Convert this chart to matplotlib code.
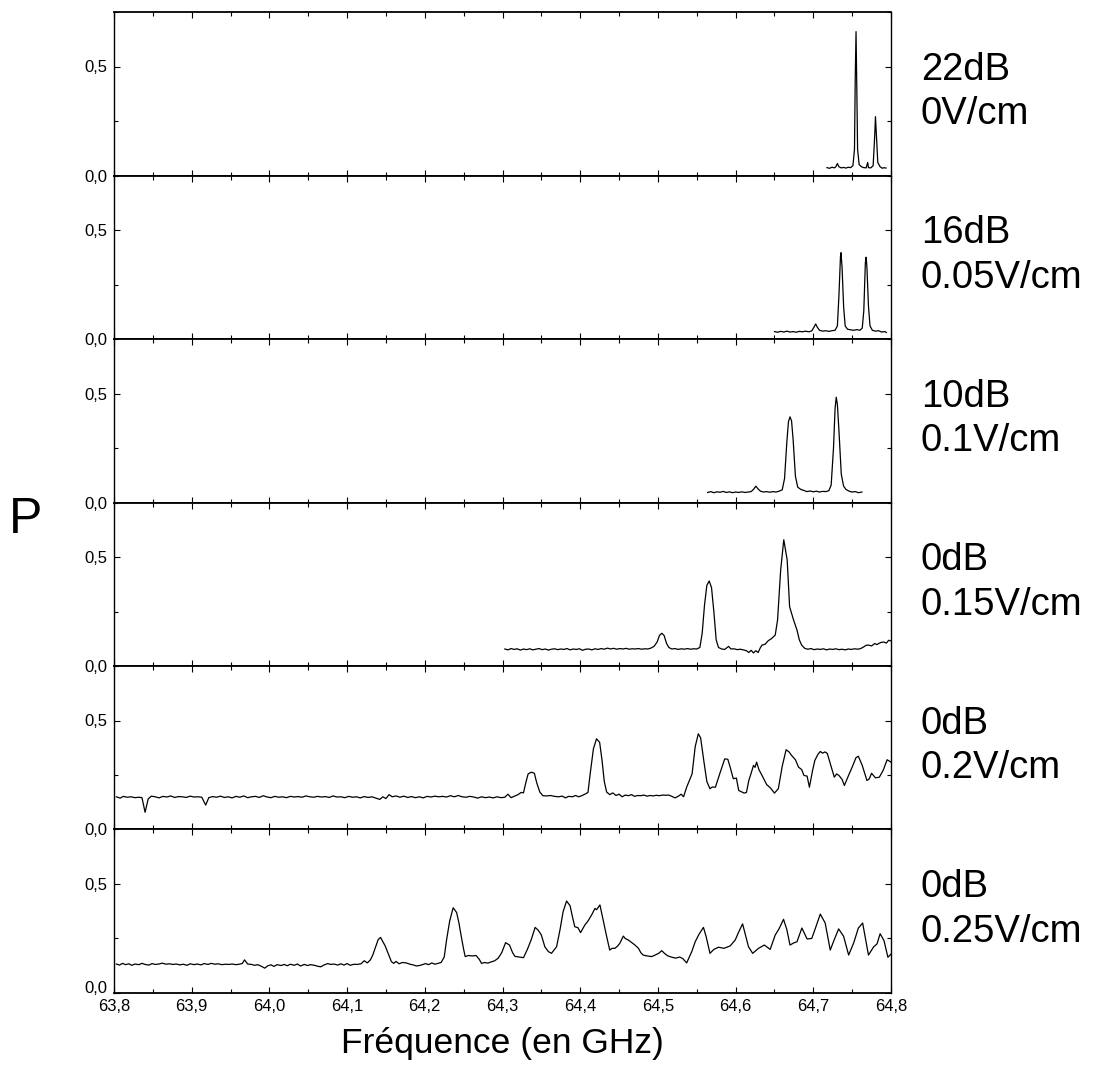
import matplotlib
matplotlib.use("Agg")
import matplotlib.pyplot as plt
from matplotlib.ticker import MultipleLocator, FuncFormatter

plt.rcParams['font.family'] = ['Liberation Sans', 'DejaVu Sans']

# ---------------- data (frequency in GHz, P) ----------------
labels = ["22dB\n0V/cm", "16dB\n0.05V/cm", "10dB\n0.1V/cm",
          "0dB\n0.15V/cm", "0dB\n0.2V/cm", "0dB\n0.25V/cm"]

x1 = [64.7175, 64.721, 64.724, 64.727, 64.729, 64.731, 64.733, 64.736, 64.739, 64.742,
      64.745, 64.748, 64.751, 64.753, 64.754, 64.755, 64.756, 64.757, 64.759, 64.762,
      64.765, 64.768, 64.770, 64.771, 64.774, 64.777, 64.779, 64.780, 64.781, 64.783,
      64.786, 64.789, 64.791, 64.7936]
y1 = [0.036, 0.033, 0.038, 0.035, 0.040, 0.055, 0.040, 0.035, 0.037, 0.034,
      0.038, 0.036, 0.045, 0.120, 0.450, 0.660, 0.400, 0.120, 0.050, 0.040,
      0.036, 0.035, 0.060, 0.036, 0.035, 0.045, 0.180, 0.270, 0.200, 0.060,
      0.040, 0.033, 0.036, 0.034]

x2 = [64.650, 64.654, 64.658, 64.662, 64.666, 64.670, 64.674, 64.678, 64.682, 64.686,
      64.690, 64.694, 64.698, 64.701, 64.703, 64.705, 64.708, 64.712, 64.716, 64.720,
      64.724, 64.728, 64.731, 64.733, 64.735, 64.7356, 64.737, 64.739, 64.741, 64.744,
      64.748, 64.752, 64.756, 64.760, 64.763, 64.765, 64.767, 64.768, 64.769, 64.771,
      64.773, 64.776, 64.780, 64.784, 64.788, 64.792, 64.794]
y2 = [0.034, 0.031, 0.035, 0.032, 0.036, 0.032, 0.034, 0.031, 0.035, 0.033,
      0.036, 0.033, 0.037, 0.055, 0.069, 0.055, 0.040, 0.036, 0.038, 0.035,
      0.038, 0.040, 0.060, 0.200, 0.380, 0.396, 0.330, 0.150, 0.060, 0.045,
      0.042, 0.040, 0.043, 0.040, 0.050, 0.130, 0.350, 0.375, 0.330, 0.150,
      0.060, 0.040, 0.036, 0.038, 0.032, 0.034, 0.030]

x3 = [64.564, 64.568, 64.572, 64.576, 64.580, 64.584, 64.588, 64.592, 64.596, 64.600,
      64.604, 64.608, 64.612, 64.616, 64.620, 64.623, 64.626, 64.629, 64.632, 64.636,
      64.640, 64.644, 64.648, 64.652, 64.656, 64.660, 64.663, 64.666, 64.668, 64.670,
      64.672, 64.674, 64.677, 64.680, 64.684, 64.688, 64.692, 64.696, 64.700, 64.704,
      64.708, 64.712, 64.716, 64.720, 64.723, 64.726, 64.728, 64.7295, 64.731, 64.733,
      64.736, 64.739, 64.742, 64.746, 64.750, 64.754, 64.758, 64.7626]
y3 = [0.046, 0.050, 0.045, 0.049, 0.047, 0.051, 0.046, 0.049, 0.045, 0.048,
      0.046, 0.049, 0.046, 0.048, 0.050, 0.060, 0.075, 0.062, 0.052, 0.048,
      0.050, 0.047, 0.050, 0.048, 0.052, 0.058, 0.110, 0.280, 0.370, 0.393,
      0.375, 0.290, 0.120, 0.070, 0.060, 0.055, 0.050, 0.053, 0.049, 0.052,
      0.048, 0.051, 0.050, 0.054, 0.080, 0.250, 0.430, 0.483, 0.450, 0.330,
      0.130, 0.075, 0.060, 0.052, 0.048, 0.050, 0.045, 0.048]

x4 = [64.303, 64.307, 64.311, 64.315, 64.319, 64.323, 64.327, 64.331, 64.335, 64.339,
      64.343, 64.347, 64.351, 64.355, 64.359, 64.363, 64.367, 64.371, 64.375, 64.379,
      64.383, 64.387, 64.391, 64.395, 64.399, 64.403, 64.407, 64.411, 64.415, 64.419,
      64.423, 64.427, 64.431, 64.435, 64.439, 64.443, 64.447, 64.451, 64.455, 64.459,
      64.463, 64.467, 64.471, 64.475, 64.479, 64.483, 64.487, 64.491, 64.495, 64.499,
      64.502, 64.505, 64.508, 64.511, 64.514, 64.518, 64.522, 64.526, 64.530, 64.534,
      64.538, 64.542, 64.546, 64.550, 64.554, 64.557, 64.560, 64.563, 64.566, 64.569,
      64.572, 64.575, 64.578, 64.582, 64.586, 64.591, 64.594, 64.598, 64.602, 64.606,
      64.610, 64.614, 64.617, 64.620, 64.623, 64.626, 64.629, 64.632, 64.634, 64.638,
      64.642, 64.646, 64.651, 64.654, 64.658, 64.662, 64.6664, 64.6695, 64.6746, 64.679,
      64.682, 64.685, 64.689, 64.693, 64.697, 64.701, 64.705, 64.709, 64.713, 64.717,
      64.721, 64.725, 64.729, 64.733, 64.737, 64.741, 64.745, 64.749, 64.753, 64.757,
      64.761, 64.765, 64.768, 64.771, 64.775, 64.779, 64.782, 64.784, 64.787, 64.7906,
      64.794, 64.797, 64.800]
y4 = [0.078, 0.074, 0.080, 0.076, 0.079, 0.073, 0.078, 0.075, 0.079, 0.074,
      0.077, 0.080, 0.075, 0.078, 0.073, 0.077, 0.079, 0.075, 0.078, 0.076,
      0.080, 0.074, 0.078, 0.076, 0.079, 0.072, 0.077, 0.078, 0.074, 0.079,
      0.076, 0.080, 0.077, 0.082, 0.078, 0.081, 0.077, 0.080, 0.078, 0.081,
      0.077, 0.079, 0.078, 0.080, 0.077, 0.079, 0.078, 0.082, 0.090, 0.110,
      0.140, 0.150, 0.140, 0.105, 0.085, 0.078, 0.080, 0.076, 0.079, 0.077,
      0.080, 0.077, 0.079, 0.078, 0.085, 0.150, 0.280, 0.370, 0.390, 0.360,
      0.250, 0.120, 0.085, 0.078, 0.076, 0.090, 0.078, 0.079, 0.075, 0.077,
      0.074, 0.070, 0.062, 0.072, 0.060, 0.070, 0.062, 0.085, 0.096, 0.100,
      0.116, 0.125, 0.142, 0.211, 0.440, 0.579, 0.486, 0.272, 0.211, 0.165,
      0.120, 0.096, 0.081, 0.077, 0.080, 0.075, 0.078, 0.076, 0.079, 0.074,
      0.078, 0.076, 0.079, 0.075, 0.077, 0.074, 0.078, 0.076, 0.079, 0.077,
      0.080, 0.088, 0.095, 0.096, 0.092, 0.103, 0.098, 0.103, 0.108, 0.110,
      0.105, 0.118, 0.115]

x5 = [63.803, 63.808, 63.812, 63.817, 63.822, 63.827, 63.832, 63.836, 63.840, 63.844,
      63.848, 63.853, 63.858, 63.863, 63.868, 63.873, 63.878, 63.883, 63.888, 63.893,
      63.898, 63.903, 63.908, 63.913, 63.918, 63.922, 63.927, 63.932, 63.937, 63.942,
      63.947, 63.952, 63.957, 63.962, 63.967, 63.972, 63.977, 63.982, 63.987, 63.992,
      63.997, 64.002, 64.007, 64.012, 64.017, 64.022, 64.027, 64.032, 64.037, 64.042,
      64.047, 64.052, 64.057, 64.062, 64.067, 64.072, 64.077, 64.082, 64.087, 64.092,
      64.097, 64.102, 64.107, 64.112, 64.117, 64.122, 64.127, 64.132, 64.137, 64.142,
      64.146, 64.150, 64.154, 64.158, 64.163, 64.168, 64.173, 64.178, 64.183, 64.188,
      64.193, 64.198, 64.203, 64.208, 64.213, 64.218, 64.223, 64.228, 64.233, 64.238,
      64.243, 64.248, 64.253, 64.258, 64.263, 64.268, 64.273, 64.278, 64.283, 64.288,
      64.293, 64.298, 64.303, 64.307, 64.311, 64.316, 64.320, 64.324, 64.327, 64.330,
      64.333, 64.337, 64.341, 64.344, 64.348, 64.352, 64.357, 64.362, 64.367, 64.372,
      64.377, 64.381, 64.385, 64.390, 64.394, 64.398, 64.402, 64.406, 64.410, 64.413,
      64.417, 64.421, 64.425, 64.428, 64.431, 64.434, 64.438, 64.442, 64.446, 64.450,
      64.454, 64.458, 64.462, 64.466, 64.470, 64.474, 64.478, 64.482, 64.486, 64.490,
      64.494, 64.498, 64.502, 64.506, 64.510, 64.514, 64.518, 64.522, 64.526, 64.530,
      64.533, 64.537, 64.544, 64.548, 64.552, 64.555, 64.559, 64.563, 64.567, 64.570,
      64.574, 64.580, 64.586, 64.590, 64.593, 64.597, 64.601, 64.604, 64.611, 64.614,
      64.617, 64.620, 64.623, 64.625, 64.627, 64.630, 64.634, 64.640, 64.645, 64.650,
      64.655, 64.660, 64.665, 64.669, 64.672, 64.677, 64.681, 64.685, 64.688, 64.692,
      64.695, 64.699, 64.702, 64.706, 64.709, 64.712, 64.715, 64.718, 64.722, 64.727,
      64.730, 64.733, 64.737, 64.740, 64.745, 64.750, 64.755, 64.758, 64.763, 64.766,
      64.769, 64.772, 64.775, 64.778, 64.780, 64.785, 64.790, 64.795, 64.800]
y5 = [0.150, 0.144, 0.152, 0.148, 0.150, 0.146, 0.148, 0.146, 0.079, 0.140,
      0.153, 0.150, 0.145, 0.152, 0.149, 0.154, 0.147, 0.151, 0.150, 0.147,
      0.153, 0.149, 0.150, 0.148, 0.112, 0.146, 0.151, 0.148, 0.153, 0.147,
      0.150, 0.145, 0.152, 0.148, 0.154, 0.146, 0.150, 0.152, 0.147, 0.155,
      0.149, 0.146, 0.152, 0.148, 0.150, 0.146, 0.152, 0.149, 0.151, 0.148,
      0.154, 0.150, 0.148, 0.152, 0.149, 0.151, 0.147, 0.154, 0.149, 0.150,
      0.146, 0.152, 0.148, 0.150, 0.145, 0.151, 0.147, 0.150, 0.144, 0.138,
      0.150, 0.142, 0.160, 0.150, 0.154, 0.148, 0.153, 0.147, 0.151, 0.146,
      0.150, 0.145, 0.152, 0.149, 0.153, 0.150, 0.152, 0.149, 0.155, 0.150,
      0.156, 0.150, 0.148, 0.152, 0.149, 0.144, 0.150, 0.146, 0.149, 0.145,
      0.150, 0.146, 0.148, 0.162, 0.146, 0.154, 0.160, 0.170, 0.168, 0.215,
      0.255, 0.263, 0.258, 0.215, 0.172, 0.155, 0.154, 0.156, 0.152, 0.150,
      0.153, 0.145, 0.152, 0.150, 0.156, 0.150, 0.155, 0.162, 0.170, 0.260,
      0.370, 0.416, 0.400, 0.320, 0.220, 0.172, 0.160, 0.168, 0.156, 0.162,
      0.150, 0.158, 0.155, 0.160, 0.152, 0.156, 0.155, 0.158, 0.153, 0.156,
      0.154, 0.157, 0.155, 0.158, 0.157, 0.158, 0.152, 0.145, 0.152, 0.162,
      0.150, 0.194, 0.255, 0.380, 0.439, 0.420, 0.317, 0.220, 0.187, 0.195,
      0.194, 0.260, 0.324, 0.322, 0.286, 0.233, 0.236, 0.179, 0.167, 0.170,
      0.225, 0.258, 0.294, 0.285, 0.309, 0.275, 0.248, 0.206, 0.190, 0.167,
      0.187, 0.290, 0.366, 0.355, 0.340, 0.320, 0.286, 0.275, 0.248, 0.245,
      0.194, 0.270, 0.317, 0.345, 0.358, 0.350, 0.356, 0.349, 0.300, 0.240,
      0.255, 0.248, 0.230, 0.202, 0.245, 0.286, 0.330, 0.336, 0.294, 0.260,
      0.225, 0.232, 0.258, 0.245, 0.237, 0.240, 0.272, 0.320, 0.309]

x6 = [63.803, 63.807, 63.811, 63.815, 63.819, 63.823, 63.827, 63.832, 63.836, 63.840,
      63.845, 63.849, 63.853, 63.858, 63.862, 63.867, 63.871, 63.876, 63.880, 63.885,
      63.889, 63.894, 63.898, 63.903, 63.907, 63.912, 63.916, 63.921, 63.925, 63.930,
      63.934, 63.939, 63.943, 63.948, 63.952, 63.957, 63.961, 63.965, 63.968, 63.972,
      63.977, 63.981, 63.985, 63.990, 63.994, 63.998, 64.002, 64.006, 64.010, 64.015,
      64.019, 64.023, 64.027, 64.032, 64.036, 64.040, 64.045, 64.049, 64.053, 64.058,
      64.062, 64.066, 64.070, 64.075, 64.079, 64.083, 64.088, 64.092, 64.096, 64.100,
      64.104, 64.109, 64.113, 64.118, 64.122, 64.126, 64.130, 64.133, 64.137, 64.140,
      64.143, 64.146, 64.149, 64.153, 64.157, 64.160, 64.163, 64.167, 64.171, 64.176,
      64.181, 64.186, 64.189, 64.193, 64.197, 64.201, 64.205, 64.209, 64.213, 64.217,
      64.221, 64.225, 64.228, 64.232, 64.2365, 64.241, 64.244, 64.247, 64.250, 64.252,
      64.256, 64.261, 64.266, 64.270, 64.273, 64.277, 64.281, 64.285, 64.290, 64.2945,
      64.299, 64.304, 64.309, 64.313, 64.316, 64.322, 64.327, 64.332, 64.337, 64.342,
      64.346, 64.350, 64.3545, 64.359, 64.363, 64.3696, 64.374, 64.378, 64.3825, 64.387,
      64.390, 64.393, 64.397, 64.4005, 64.406, 64.410, 64.415, 64.419, 64.421, 64.4254,
      64.430, 64.434, 64.438, 64.441, 64.4447, 64.448, 64.451, 64.4555, 64.458, 64.462,
      64.466, 64.4705, 64.475, 64.478, 64.481, 64.486, 64.492, 64.497, 64.501, 64.505,
      64.509, 64.513, 64.518, 64.523, 64.528, 64.532, 64.537, 64.5436, 64.548, 64.553,
      64.5586, 64.562, 64.567, 64.572, 64.578, 64.585, 64.593, 64.5995, 64.604, 64.609,
      64.6166, 64.622, 64.6295, 64.637, 64.6445, 64.651, 64.656, 64.6617, 64.666, 64.670,
      64.675, 64.679, 64.6853, 64.692, 64.698, 64.703, 64.709, 64.7153, 64.7218, 64.727,
      64.7326, 64.739, 64.7455, 64.752, 64.758, 64.7635, 64.771, 64.7777, 64.782, 64.786,
      64.791, 64.796, 64.8004]
y6 = [0.133, 0.128, 0.136, 0.130, 0.134, 0.127, 0.133, 0.130, 0.136, 0.131,
      0.128, 0.135, 0.131, 0.133, 0.137, 0.132, 0.134, 0.131, 0.133, 0.129,
      0.132, 0.127, 0.134, 0.130, 0.133, 0.129, 0.135, 0.131, 0.136, 0.132,
      0.134, 0.130, 0.132, 0.131, 0.133, 0.130, 0.132, 0.135, 0.152, 0.133,
      0.131, 0.127, 0.130, 0.122, 0.114, 0.125, 0.129, 0.122, 0.130, 0.126,
      0.131, 0.125, 0.132, 0.127, 0.133, 0.124, 0.131, 0.126, 0.130, 0.127,
      0.123, 0.120, 0.128, 0.135, 0.131, 0.133, 0.128, 0.134, 0.128, 0.135,
      0.127, 0.132, 0.131, 0.134, 0.148, 0.138, 0.152, 0.174, 0.215, 0.245,
      0.255, 0.235, 0.216, 0.180, 0.144, 0.136, 0.145, 0.134, 0.140, 0.138,
      0.132, 0.128, 0.124, 0.126, 0.130, 0.135, 0.130, 0.138, 0.132, 0.136,
      0.140, 0.165, 0.243, 0.330, 0.391, 0.369, 0.320, 0.258, 0.200, 0.167,
      0.172, 0.170, 0.172, 0.155, 0.136, 0.140, 0.137, 0.142, 0.148, 0.160,
      0.185, 0.231, 0.220, 0.185, 0.168, 0.165, 0.162, 0.200, 0.245, 0.301,
      0.288, 0.266, 0.212, 0.190, 0.182, 0.212, 0.290, 0.373, 0.422, 0.400,
      0.350, 0.304, 0.300, 0.277, 0.312, 0.330, 0.360, 0.388, 0.382, 0.404,
      0.327, 0.260, 0.197, 0.205, 0.205, 0.215, 0.228, 0.261, 0.250, 0.243,
      0.232, 0.220, 0.205, 0.185, 0.174, 0.170, 0.167, 0.175, 0.182, 0.194,
      0.180, 0.170, 0.164, 0.160, 0.165, 0.158, 0.138, 0.190, 0.235, 0.270,
      0.301, 0.260, 0.182, 0.200, 0.210, 0.205, 0.216, 0.243, 0.280, 0.317,
      0.212, 0.182, 0.205, 0.220, 0.200, 0.266, 0.295, 0.338, 0.290, 0.220,
      0.230, 0.235, 0.298, 0.248, 0.250, 0.300, 0.362, 0.321, 0.197, 0.245,
      0.294, 0.260, 0.174, 0.230, 0.298, 0.321, 0.174, 0.212, 0.225, 0.272,
      0.240, 0.164, 0.180]

xs = [x1, x2, x3, x4, x5, x6]
ys = [y1, y2, y3, y4, y5, y6]

# ---------------- figure ----------------
W, H = 1096, 1077
fig = plt.figure(figsize=(W / 100, H / 100), dpi=100)
left, right = 114 / W, 891 / W
top, bottom = 1 - 12 / H, 1 - 993 / H
gs = fig.add_gridspec(6, 1, left=left, right=right, top=top, bottom=bottom, hspace=0)

comma = FuncFormatter(lambda v, p: f"{v:.1f}".replace('.', ','))
# bottom panel: "0,0" drawn separately so it sits just above the x tick labels
comma_no_zero = FuncFormatter(lambda v, p: "" if abs(v) < 1e-9
                              else f"{v:.1f}".replace('.', ','))

axes = []
for i in range(6):
    ax = fig.add_subplot(gs[i, 0])
    axes.append(ax)
    ax.plot(xs[i], ys[i], color='black', lw=0.9)
    ax.set_xlim(63.8, 64.8)
    ax.set_ylim(0, 0.75)
    ax.xaxis.set_major_locator(MultipleLocator(0.1))
    ax.xaxis.set_minor_locator(MultipleLocator(0.05))
    ax.yaxis.set_major_locator(MultipleLocator(0.5))
    ax.yaxis.set_minor_locator(MultipleLocator(0.25))
    ax.yaxis.set_major_formatter(comma if i < 5 else comma_no_zero)
    ax.xaxis.set_major_formatter(comma)
    ax.tick_params(which='both', direction='in', top=True, right=True,
                   labelsize=12, width=0.8)
    ax.tick_params(which='major', length=4)
    ax.tick_params(which='minor', length=3)
    ax.tick_params(axis='y', pad=5)
    for s in ax.spines.values():
        s.set_linewidth(1.0)
    ax.spines['bottom'].set_linewidth(1.3)
    ax.spines['top'].set_linewidth(1.3)
    if i < 5:
        ax.tick_params(labelbottom=False)
    ax.text(1.0386, 0.51, labels[i], transform=ax.transAxes, ha='left',
            va='center', fontsize=27.5, linespacing=1.3)

axes[-1].tick_params(axis='x', labelsize=12, pad=4)
axes[-1].annotate("0,0", xy=(0, 0), xycoords='axes fraction', xytext=(-5, 3),
                  textcoords='offset points', ha='right', va='center', fontsize=12)

fig.text(0.023, 0.517, "P", fontsize=36, ha='center', va='center')
fig.text((left + right) / 2, 1 - 1043 / H, "Fréquence (en GHz)", fontsize=25.5,
         ha='center', va='center')

fig.savefig("out.png", dpi=100)
